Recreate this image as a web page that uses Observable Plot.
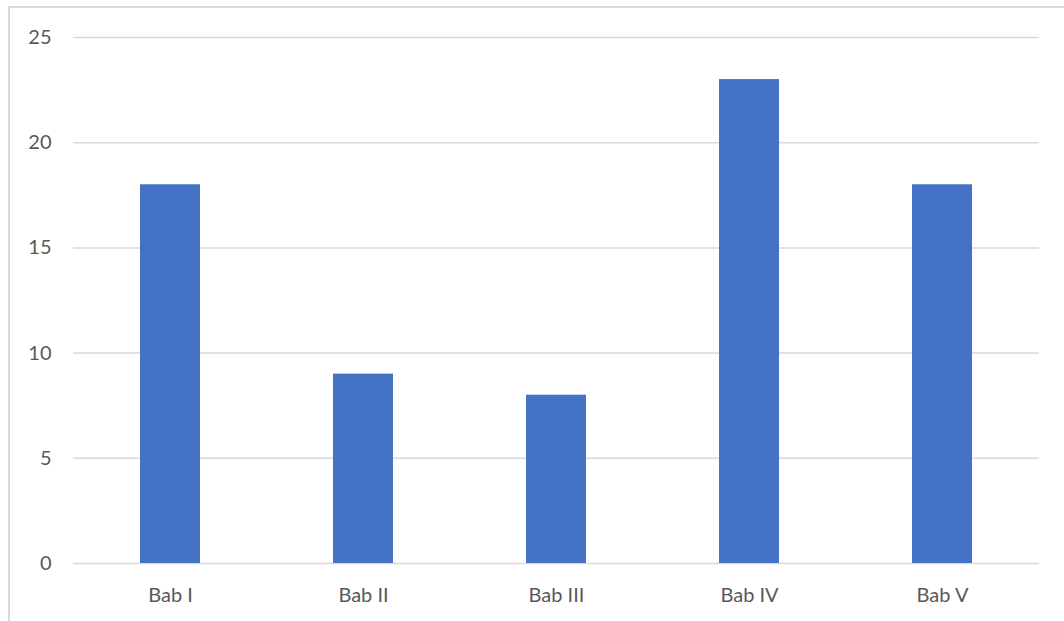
<!DOCTYPE html>
<html><head><meta charset="utf-8">
<script src="https://cdn.jsdelivr.net/npm/d3@7"></script>
<script src="https://cdn.jsdelivr.net/npm/@observablehq/plot@0.6"></script>
<style>
html,body{margin:0;padding:0;background:#fff;overflow:hidden;}
#wrap{position:relative;width:1064px;height:621px;}
#border{position:absolute;left:8px;top:6px;width:1060px;height:630px;border-left:2px solid #d9d9d9;border-top:2px solid #d9d9d9;box-sizing:border-box;}
#chart{position:absolute;left:0;top:0;}
</style></head>
<body>
<div id="wrap"><div id="border"></div><div id="chart"></div></div>
<script>
const categories = ["Bab I","Bab II","Bab III","Bab IV","Bab V"];
const values = [18, 9, 8, 23, 18];
const yTicks = [0, 5, 10, 15, 20, 25];
const data = categories.map((c, i) => ({category: c, value: values[i]}));

const chart = Plot.plot({
  width: 1064,
  height: 621,
  marginLeft: 73,
  marginRight: 25,
  marginTop: 37,
  marginBottom: 58,
  style: {fontFamily: "Lato, 'Open Sans', sans-serif", fontSize: "20px", color: "#595959", background: "transparent"},
  x: {domain: categories, paddingInner: 0.69, paddingOuter: 0.345, align: 0.5, label: null},
  y: {domain: [0, 25], ticks: yTicks, label: null},
  marks: [
    Plot.gridY(yTicks, {stroke: "#d9d9d9", strokeOpacity: 1, strokeWidth: 1.5}),
    Plot.barY(data, {x: "category", y: "value", fill: "#4472c4"}),
    Plot.axisX({tickSize: 0, tickPadding: 24, fontSize: 20, fill: "#595959"}),
    Plot.axisY({ticks: yTicks, tickSize: 0, tickPadding: 22, fontSize: 20, fill: "#595959"})
  ]
});
document.getElementById("chart").appendChild(chart);
</script>
</body></html>
